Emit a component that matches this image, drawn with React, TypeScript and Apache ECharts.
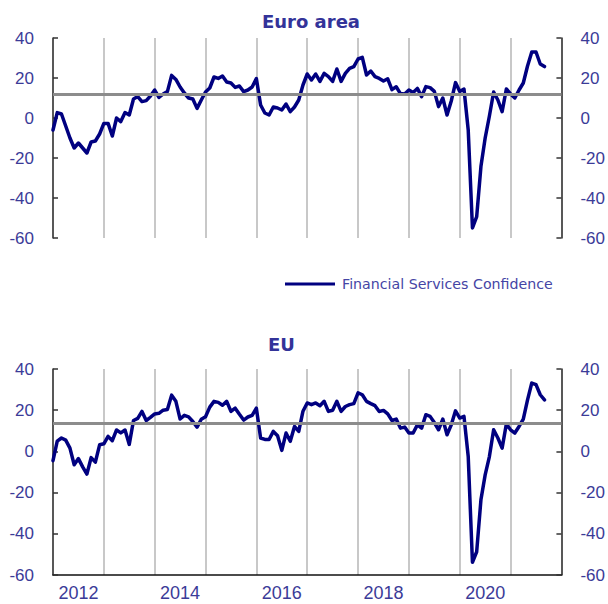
import React, { useEffect, useRef } from "react";
import * as echarts from "echarts";

// Monthly values, Jan 2012 .. Sep 2021
const euroArea: number[] = [
  -6, 2.7, 2, -4, -10, -15, -12.5, -15, -17.5, -12, -11.5, -8,
  -2.7, -2.7, -9, 0, -1.8, 2.7, 1.5, 9.5, 10.7, 8.2, 8.7, 11,
  14, 10.3, 12, 13.2, 21.3, 19.3, 15.5, 12.5, 10, 9.5, 4.8, 9,
  13, 15, 20.5, 19.8, 21, 18, 17.5, 15.3, 16, 13.2, 14, 15.5,
  19.7, 6.5, 2.5, 1.5, 5.5, 5, 4, 7, 3.2, 5.5, 9, 16.5,
  22, 19, 22, 18.3, 22.3, 20.7, 18.3, 24.5, 18.3, 22.3, 24.8, 25.7,
  29.5, 30.3, 21.5, 23.5, 20.7, 19.8, 18.5, 19.6, 14.2, 15.6, 12.2, 12,
  14, 12.8, 14.8, 10.7, 15.7, 15.2, 13.3, 5.7, 10, 1.5, 8.5, 17.7,
  13.3, 14.5, -6, -55, -49.3, -24.3, -10, 1, 13, 9, 3.2, 14.5,
  12, 10, 14, 17.5, 26, 33, 33, 27, 25.7,
];

const eu: number[] = [
  -4.5, 5, 6.5, 5.5, 1.6, -6.5, -3.5, -7.5, -11, -3, -5.2, 3.2,
  3.7, 7.3, 5.2, 10.4, 9, 10.4, 3.4, 15, 16, 19.4, 15, 16.5,
  18.2, 18.5, 20, 20.3, 27.3, 24.3, 15.7, 17.5, 16.8, 14.5, 11.8, 15.6,
  16.8, 21.5, 24.3, 23.8, 22.4, 24.3, 19.4, 21, 18, 15.2, 16.7, 17.5,
  21, 6.5, 5.8, 5.8, 9.7, 7.6, 0.5, 8.9, 4.9, 12.1, 9.7, 19.5,
  23.5, 22.7, 23.5, 22.2, 24.3, 19.4, 20, 24.3, 19.4, 21.8, 22.7, 23.2,
  28.4, 27.5, 24.3, 23.2, 22.2, 19.4, 19.9, 18.2, 15, 15.7, 11.3, 11.8,
  8.9, 8.9, 12.9, 11.3, 17.8, 17, 14, 10.5, 15.7, 8.1, 12.9, 19.7,
  16.2, 17, -2.5, -53.8, -48.7, -23.5, -11.4, -2.5, 10.5, 6.5, 1.6, 13.3,
  10.5, 8.9, 12.1, 15.7, 25, 33.2, 32.4, 27.5, 25,
];

const euroAreaAverage = 11.9;
const euAverage = 13.5;

const years: string[] = ["2012", "2013", "2014", "2015", "2016", "2017", "2018", "2019", "2020", "2021"];
const seriesName = "Financial Services Confidence";
const titles: string[] = ["Euro area", "EU"];

const months: string[] = [];
for (let y = 2012; y <= 2021; y++) {
  for (let m = 1; m <= 12; m++) months.push(`${y}-${m < 10 ? "0" + m : m}`);
}
months.push("2022-01");

const LABEL = "#3b3b98";
const NAVY = "#000080";

export default function App() {
  const ref = useRef<HTMLDivElement>(null);
  useEffect(() => {
    if (!ref.current) return;
    const chart = echarts.init(ref.current, undefined, { renderer: "svg" });

    const yAxisPair = (gridIndex: number) => {
      const common = {
        type: "value",
        gridIndex,
        min: -60,
        max: 40,
        interval: 20,
        splitLine: { show: false },
        axisLine: { show: true, lineStyle: { color: "#333", width: 1.5 } },
        axisTick: { show: true, inside: true, length: 5, lineStyle: { color: "#333", width: 1.5 } },
        axisLabel: { color: LABEL, fontSize: 17, fontFamily: "Liberation Sans", margin: 19 },
      };
      return [
        { ...common, position: "left" },
        { ...common, position: "right" },
      ];
    };

    const monthAxis = (gridIndex: number) => ({
      type: "category",
      gridIndex,
      data: months,
      boundaryGap: false,
      position: "top",
      show: false,
    });

    const yearAxis = (gridIndex: number, showLabels: boolean) => ({
      type: "category",
      gridIndex,
      data: years,
      boundaryGap: true,
      position: "bottom",
      axisLine: { show: showLabels, onZero: false, lineStyle: { color: "#111", width: 1.5 } },
      axisTick: { show: false },
      axisLabel: {
        show: showLabels,
        interval: 1,
        color: LABEL,
        fontSize: 18,
        fontFamily: "Liberation Sans",
        margin: 9,
      },
      splitLine: { show: true, interval: 0, lineStyle: { color: "#c8c8c8", width: 2 } },
    });

    const lineSeries = (data: number[], xIdx: number, yIdx: number, avg: number) => ({
      name: seriesName,
      type: "line",
      xAxisIndex: xIdx,
      yAxisIndex: yIdx,
      data,
      showSymbol: false,
      symbol: "none",
      lineStyle: { color: NAVY, width: 3.5, join: "round", cap: "round" },
      itemStyle: { color: NAVY },
      markLine: {
        silent: true,
        symbol: "none",
        label: { show: false },
        lineStyle: { color: "#8c8c8c", width: 3, type: "solid" },
        data: [{ yAxis: avg }],
      },
      z: 3,
    });

    chart.setOption({
      animation: false,
      title: [
        {
          text: titles[0],
          left: 257,
          top: 7,
          textStyle: { color: "#333399", fontSize: 18, fontWeight: "bold", fontFamily: "DejaVu Sans" },
        },
        {
          text: titles[1],
          left: 263,
          top: 330,
          textStyle: { color: "#333399", fontSize: 18, fontWeight: "bold", fontFamily: "DejaVu Sans" },
        },
      ],
      legend: {
        data: [{ name: seriesName, icon: "rect" }],
        left: 285,
        top: 277,
        padding: 0,
        itemWidth: 50,
        itemHeight: 3,
        itemGap: 5,
        textStyle: { color: "#4545a5", fontSize: 14.2, fontFamily: "DejaVu Sans", padding: [0, 0, 0, 2] },
        selectedMode: false,
      },
      grid: [
        { left: 53, right: 45, top: 38, height: 200 },
        { left: 53, right: 45, top: 369, height: 206 },
      ],
      xAxis: [monthAxis(0), yearAxis(0, false), monthAxis(1), yearAxis(1, true)],
      yAxis: [...yAxisPair(0), ...yAxisPair(1)],
      series: [
        lineSeries(euroArea, 0, 0, euroAreaAverage),
        lineSeries(eu, 2, 2, euAverage),
      ],
    });

    return () => chart.dispose();
  }, []);

  return (
    <div
      ref={ref}
      style={{ position: "fixed", left: 0, top: 0, width: 608, height: 604, background: "#fff" }}
    />
  );
}
